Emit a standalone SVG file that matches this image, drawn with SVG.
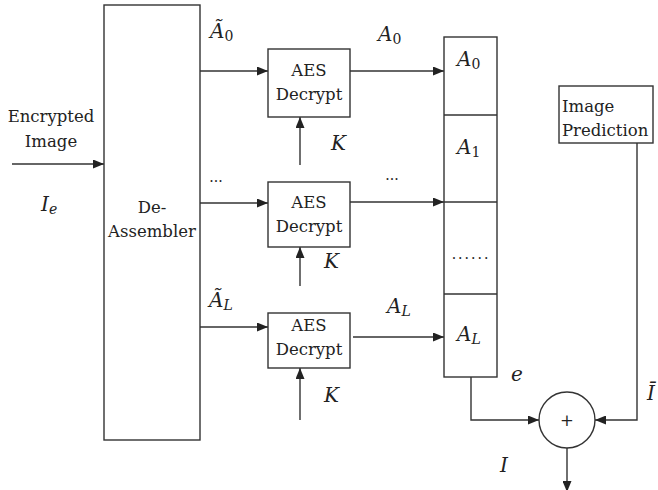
<svg xmlns="http://www.w3.org/2000/svg" width="658" height="490" viewBox="0 0 658 490">
<style>
.box{fill:#fff;stroke:#333;stroke-width:1.4}
.ln{fill:none;stroke:#333;stroke-width:1.4}
.t{font-family:'DejaVu Serif','Liberation Serif',serif;font-size:16.5px;fill:#222}
.m{font-family:'DejaVu Serif','Liberation Serif',serif;font-size:20px;font-style:italic;fill:#222}
.s{font-style:normal;font-size:14px}
.sl{font-size:14px}
.d{font-family:'DejaVu Serif','Liberation Serif',serif;font-size:14px;fill:#222}
</style>
<defs>
<marker id="ah" markerUnits="userSpaceOnUse" markerWidth="11" markerHeight="9" refX="11" refY="4.5" orient="auto">
<path d="M0,0 L11,4.5 L0,9 z" fill="#222"/>
</marker>
</defs>
<rect width="658" height="490" fill="#fff"/>

<g id="connectors">
<line class="ln" x1="12" y1="164" x2="104" y2="164" marker-end="url(#ah)"/>
<line class="ln" x1="200" y1="71" x2="268" y2="71" marker-end="url(#ah)"/>
<line class="ln" x1="200" y1="203" x2="268" y2="203" marker-end="url(#ah)"/>
<line class="ln" x1="200" y1="327" x2="268" y2="327" marker-end="url(#ah)"/>
<line class="ln" x1="350" y1="71" x2="444" y2="71" marker-end="url(#ah)"/>
<line class="ln" x1="350" y1="202" x2="444" y2="202" marker-end="url(#ah)"/>
<line class="ln" x1="353" y1="337" x2="444" y2="337" marker-end="url(#ah)"/>
<line class="ln" x1="300" y1="165" x2="300" y2="117" marker-end="url(#ah)"/>
<line class="ln" x1="300" y1="286" x2="300" y2="247" marker-end="url(#ah)"/>
<line class="ln" x1="300" y1="420" x2="300" y2="368" marker-end="url(#ah)"/>
<polyline class="ln" points="471,377 471,420 539,420" marker-end="url(#ah)"/>
<polyline class="ln" points="637,143 637,420 595,420" marker-end="url(#ah)"/>
<line class="ln" x1="567" y1="448" x2="567" y2="492" marker-end="url(#ah)"/>
</g>

<g id="deassembler">
<rect class="box" x="104" y="5" width="96" height="435"/>
<text class="t" x="152" y="213" text-anchor="middle">De-</text>
<text class="t" x="152" y="237" text-anchor="middle">Assembler</text>
</g>

<g id="aes0">
<rect class="box" x="268" y="49" width="82" height="68"/>
<text class="t" x="309" y="76" text-anchor="middle">AES</text>
<text class="t" x="309" y="100" text-anchor="middle">Decrypt</text>
</g>
<g id="aes1">
<rect class="box" x="268" y="182" width="82" height="65"/>
<text class="t" x="309" y="208" text-anchor="middle">AES</text>
<text class="t" x="309" y="232" text-anchor="middle">Decrypt</text>
</g>
<g id="aesL">
<rect class="box" x="268" y="313" width="82" height="55"/>
<text class="t" x="309" y="331" text-anchor="middle">AES</text>
<text class="t" x="309" y="355" text-anchor="middle">Decrypt</text>
</g>

<g id="column">
<rect class="box" x="444" y="37" width="53" height="340"/>
<line class="ln" x1="444" y1="115" x2="497" y2="115"/>
<line class="ln" x1="444" y1="202" x2="497" y2="202"/>
<line class="ln" x1="444" y1="294" x2="497" y2="294"/>
<text class="m" x="457" y="66">A<tspan class="s" dy="3">0</tspan></text>
<text class="m" x="457" y="154">A<tspan class="s" dy="3">1</tspan></text>
<text class="d" x="471" y="259" text-anchor="middle" letter-spacing="2">......</text>
<text class="m" x="457" y="341">A<tspan class="sl" dy="3">L</tspan></text>
</g>

<g id="prediction">
<rect class="box" x="559" y="86" width="94" height="57"/>
<text class="t" x="562" y="112">Image</text>
<text class="t" x="562" y="136">Prediction</text>
</g>

<g id="adder">
<circle class="box" cx="567" cy="420" r="28"/>
<text class="t" x="567" y="426" text-anchor="middle">+</text>
</g>

<g id="labels">
<text class="t" x="51" y="122" text-anchor="middle">Encrypted</text>
<text class="t" x="51" y="147" text-anchor="middle">Image</text>
<text class="m" x="41" y="211">I<tspan class="sl" dy="3">e</tspan></text>
<text class="m" x="210" y="38">Ã<tspan class="s" dy="3">0</tspan></text>
<text class="m" x="209" y="307">Ã<tspan class="sl" dy="3">L</tspan></text>
<text class="m" x="378" y="41">A<tspan class="s" dy="3">0</tspan></text>
<text class="m" x="387" y="313">A<tspan class="sl" dy="3">L</tspan></text>
<text class="m" x="331" y="150">K</text>
<text class="m" x="324" y="268">K</text>
<text class="m" x="324" y="402">K</text>
<text class="d" x="216" y="182" text-anchor="middle">...</text>
<text class="d" x="392" y="180" text-anchor="middle">...</text>
<text class="m" x="511" y="381">e</text>
<text class="m" x="500" y="472">I</text>
<text class="m" x="647" y="400">Ī</text>
</g>
</svg>
